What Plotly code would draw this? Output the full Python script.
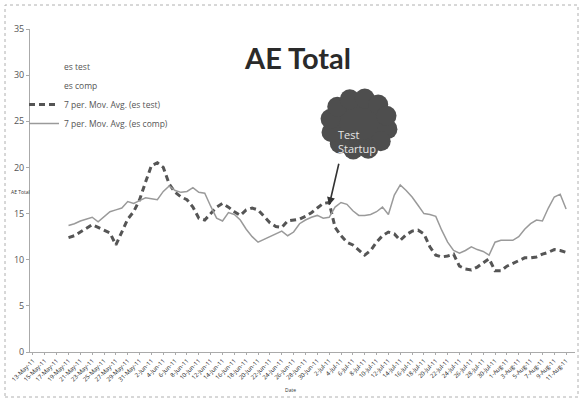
import math
import pandas as pd
import plotly.graph_objects as go

# Daily categories (category axis, labelled every second day)
dates = [d.strftime("%-d-%b-%y") for d in pd.date_range("2011-05-13", periods=92, freq="D")]

# 7-period moving averages (first 6 periods have no average)
ma_test = [None] * 6 + [
    12.4, 12.6, 13.0, 13.4, 13.8, 13.5, 13.2, 12.9, 11.6, 13.0,
    14.4, 15.2, 16.5, 18.4, 20.2, 20.5, 20.0, 18.2, 17.3, 16.8,
    16.5, 15.7, 14.5, 14.3, 15.0, 15.7, 16.1, 15.7, 15.2, 14.8,
    15.4, 15.6, 15.4, 14.7, 14.0, 13.6, 13.5, 14.2, 14.3, 14.4,
    14.7, 15.1, 15.6, 16.1, 16.2, 13.5, 12.6, 11.9, 11.6, 11.1,
    10.5, 11.0, 11.9, 12.6, 13.0, 12.8, 12.1, 12.7, 13.1, 13.2,
    12.8, 11.4, 10.5, 10.3, 10.4, 10.6, 9.3, 9.0, 8.9, 9.2,
    9.7, 10.1, 8.8, 8.8, 9.3, 9.6, 9.9, 10.2, 10.2, 10.3,
    10.6, 10.8, 11.1, 11.0, 10.8,
] + [None]

ma_comp = [None] * 6 + [
    13.7, 13.9, 14.2, 14.4, 14.6, 14.1, 14.7, 15.2, 15.4, 15.6,
    16.3, 16.1, 16.4, 16.7, 16.6, 16.5, 17.4, 18.0, 17.5, 17.3,
    17.4, 17.8, 17.3, 17.2, 15.8, 14.5, 14.2, 15.1, 14.9, 14.3,
    13.3, 12.5, 11.9, 12.2, 12.5, 12.8, 13.1, 12.6, 13.0, 13.9,
    14.3, 14.6, 14.8, 14.5, 14.6, 15.7, 16.2, 16.0, 15.3, 14.8,
    14.8, 14.9, 15.2, 15.7, 14.9, 17.0, 18.1, 17.5, 16.8, 15.9,
    15.0, 14.9, 14.7, 13.2, 11.9, 11.0, 10.7, 11.0, 11.4, 11.1,
    10.9, 10.5, 11.9, 12.1, 12.1, 12.1, 12.5, 13.3, 13.9, 14.3,
    14.2, 15.6, 16.8, 17.1, 15.5,
] + [None]

y_ticks = [0, 5, 10, 15, 20, 25, 30, 35]
startup_index = 50
startup_value = 15.9

W, H = 583, 401
ML, MR, MT, MB = 30, 8, 29, 49
PW, PH = W - ML - MR, H - MT - MB


def px_x(x):
    return (x - ML) / PW


def px_y(y):
    return (H - MB - y) / PH


fig = go.Figure()

# raw series are listed in the legend only
fig.add_trace(go.Scatter(x=[dates[0]], y=[None], name="es test", mode="lines",
                         line=dict(color="rgba(0,0,0,0)")))
fig.add_trace(go.Scatter(x=[dates[0]], y=[None], name="es comp", mode="lines",
                         line=dict(color="rgba(0,0,0,0)")))
fig.add_trace(go.Scatter(x=dates, y=ma_test, name="7 per. Mov. Avg. (es test)",
                         mode="lines", line=dict(color="#555555", width=3, dash="6px,4px")))
fig.add_trace(go.Scatter(x=dates, y=ma_comp, name="7 per. Mov. Avg. (es comp)",
                         mode="lines", line=dict(color="#9a9a9a", width=1.5)))

shapes = []
# outer frame
shapes.append(dict(type="rect", xref="paper", yref="paper",
                   x0=px_x(5), x1=px_x(578), y0=px_y(397), y1=px_y(5),
                   line=dict(color="#b0b0b0", width=1, dash="dot"), fillcolor="rgba(0,0,0,0)",
                   layer="below"))

# callout cloud: a body with small scalloped bumps round its edge
cloud_cx, cloud_cy = 359, 124
bubbles = [(cloud_cx, cloud_cy, 30, 28)]
for k in range(12):
    a = 2 * math.pi * k / 12 + 0.2
    bx = cloud_cx + 29 * math.cos(a)
    by = cloud_cy + 26 * math.sin(a)
    bubbles.append((bx, by, 10, 10))
for cx, cy, rx, ry in bubbles:
    shapes.append(dict(type="circle", xref="paper", yref="paper",
                       x0=px_x(cx - rx), x1=px_x(cx + rx),
                       y0=px_y(cy + ry), y1=px_y(cy - ry),
                       fillcolor="#4e4e4e", line=dict(width=0)))

annotations = [
    dict(text="<b>AE Total</b>", x=px_x(297), y=px_y(38), xref="paper", yref="paper",
         showarrow=False, font=dict(family="Lato", size=29, color="#2a2a2a")),
    dict(text="Test<br>Startup", x=px_x(336), y=px_y(125), xref="paper", yref="paper",
         xanchor="left", align="left", showarrow=False,
         font=dict(family="Open Sans", size=11, color="#e6e6e6")),
    dict(text="AE Total", x=px_x(9), y=px_y(192), xref="paper", yref="paper",
         showarrow=False, font=dict(family="Open Sans", size=5, color="#333333")),
    dict(text="Date", x=px_x(290), y=px_y(395), xref="paper", yref="paper",
         showarrow=False, font=dict(family="Open Sans", size=5, color="#333333")),
    dict(x=dates[startup_index], y=startup_value, xref="x", yref="y", text="",
         showarrow=True, arrowhead=2, arrowsize=1, arrowwidth=1.6, arrowcolor="#333333",
         ax=10, ay=-43, standoff=0),
]

fig.update_layout(
    width=W, height=H,
    margin=dict(l=ML, r=MR, t=MT, b=MB, autoexpand=False),
    paper_bgcolor="white", plot_bgcolor="white",
    font=dict(family="Open Sans", color="#444444"),
    showlegend=True,
    legend=dict(x=px_x(24), y=px_y(52),
                xanchor="left", yanchor="top", bgcolor="rgba(0,0,0,0)",
                font=dict(size=8.5, color="#555555"), tracegroupgap=0),
    shapes=shapes,
    annotations=annotations,
)

fig.update_xaxes(
    type="category", tickmode="array", tickvals=dates[::2], ticktext=dates[::2],
    tickangle=-45, tickfont=dict(size=6, color="#222222"),
    showline=True, linecolor="#aaaaaa", linewidth=1,
    ticks="outside", ticklen=2, tickcolor="#aaaaaa",
    showgrid=False, zeroline=False, range=[-0.5, len(dates) - 0.5],
)
fig.update_yaxes(
    range=[0, 35], tickvals=y_ticks, tickfont=dict(size=9, color="#555555"),
    showline=True, linecolor="#aaaaaa", linewidth=1,
    ticks="outside", ticklen=3, tickcolor="#aaaaaa",
    showgrid=False, zeroline=False,
)

fig.write_html("out.html")
